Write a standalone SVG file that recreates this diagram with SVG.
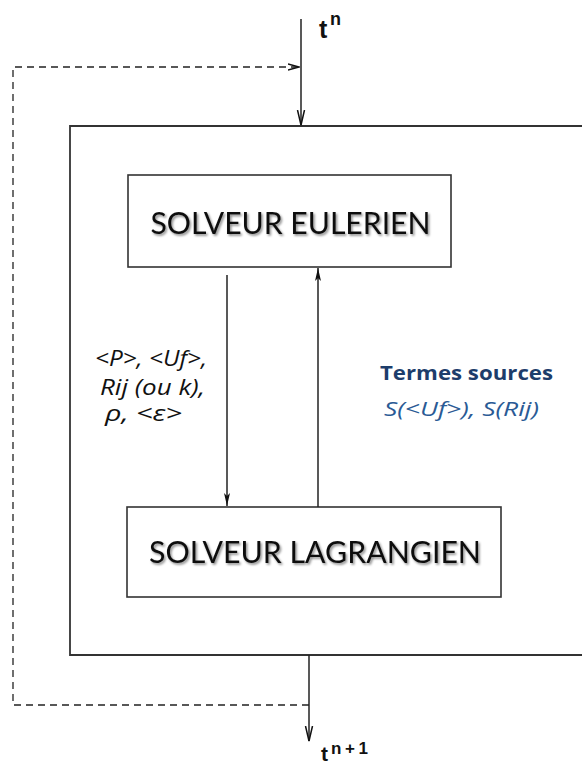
<svg xmlns="http://www.w3.org/2000/svg" width="582" height="766" viewBox="0 0 582 766">
<style>
.box{fill:#fff;stroke:#333;stroke-width:1.6}
.frame{fill:none;stroke:#333;stroke-width:1.8}
.ln{fill:none;stroke:#222;stroke-width:1.5}
.dash{fill:none;stroke:#222;stroke-width:1.3;stroke-dasharray:7,5}
.title{font-family:"Lato","Open Sans",sans-serif;font-size:31px;fill:#111;text-anchor:middle}
.lbl{font-family:"Open Sans","Noto Sans",sans-serif;font-style:italic;font-size:21px;fill:#111}
.t{font-family:"Liberation Sans",Arial,sans-serif;font-weight:bold;fill:#111}
.blueb{font-family:"Open Sans","Noto Sans",sans-serif;font-weight:bold;font-size:20px;fill:#1d3d6b}
.bluei{font-family:"Open Sans","Noto Sans",sans-serif;font-style:italic;font-size:20px;fill:#2a5a95}
</style>
<defs>
<filter id="sh" x="-5%" y="-20%" width="110%" height="150%">
<feDropShadow dx="1.5" dy="1.8" stdDeviation="1" flood-color="#000" flood-opacity="0.45"/>
</filter>
<marker id="af" markerUnits="userSpaceOnUse" markerWidth="14" markerHeight="8" viewBox="0 0 14 8" refX="13" refY="4" orient="auto">
<path d="M0,1 L13,4 L0,7 L3,4 Z" fill="#111"/>
</marker>
<marker id="av" markerUnits="userSpaceOnUse" markerWidth="16" markerHeight="10" viewBox="0 0 16 10" refX="15" refY="5" orient="auto">
<path d="M0,1.5 L15,5 L0,8.5" fill="none" stroke="#111" stroke-width="1.5"/>
</marker>
<marker id="ad" markerUnits="userSpaceOnUse" markerWidth="12" markerHeight="8" viewBox="0 0 12 8" refX="11" refY="4" orient="auto">
<path d="M0,1 L11,4 L0,7" fill="none" stroke="#111" stroke-width="1.3"/>
</marker>
</defs>
<g id="cycle">
<path class="frame" d="M583,126 H70 V655 H583"/>
</g>
<g id="euler">
<rect class="box" x="128" y="175" width="323" height="92"/>
<text class="title" x="290.5" y="234" textLength="280" lengthAdjust="spacingAndGlyphs" filter="url(#sh)">SOLVEUR EULERIEN</text>
</g>
<g id="lagrange">
<rect class="box" x="127" y="507" width="374" height="90"/>
<text class="title" x="315" y="563" textLength="332" lengthAdjust="spacingAndGlyphs" filter="url(#sh)">SOLVEUR LAGRANGIEN</text>
</g>
<g id="label-eulerian-fields">
<text class="lbl" x="95" y="366" textLength="112" lengthAdjust="spacingAndGlyphs">&lt;P&gt;, &lt;Uf&gt;,</text>
<text class="lbl" x="100" y="395" textLength="105" lengthAdjust="spacingAndGlyphs">Rij (ou k),</text>
<text class="lbl" x="105" y="421" textLength="77" lengthAdjust="spacingAndGlyphs">ρ, &lt;ε&gt;</text>
</g>
<g id="label-sources">
<text class="blueb" x="380" y="380" textLength="173" lengthAdjust="spacingAndGlyphs">Termes sources</text>
<text class="bluei" x="384" y="416" textLength="155" lengthAdjust="spacingAndGlyphs">S(&lt;Uf&gt;), S(Rij)</text>
</g>
<g id="time-n">
<text class="t" x="319" y="38" font-size="25">t</text>
<text class="t" x="330" y="25" font-size="18">n</text>
</g>
<g id="time-n1">
<text class="t" x="321" y="761" font-size="21">t</text>
<text class="t" x="331" y="754" font-size="17" textLength="37" lengthAdjust="spacing">n+1</text>
</g>
<g id="connectors">
<line class="ln" x1="301" y1="19" x2="301" y2="125" marker-end="url(#av)"/>
<line class="ln" x1="227" y1="275" x2="227" y2="506" marker-end="url(#af)"/>
<line class="ln" x1="318" y1="507" x2="318" y2="268" marker-end="url(#af)"/>
<line class="ln" x1="309" y1="655" x2="309" y2="741" marker-end="url(#av)"/>
<path class="dash" d="M309,705 H13 V67 H299" marker-end="url(#ad)"/>
</g>
</svg>
